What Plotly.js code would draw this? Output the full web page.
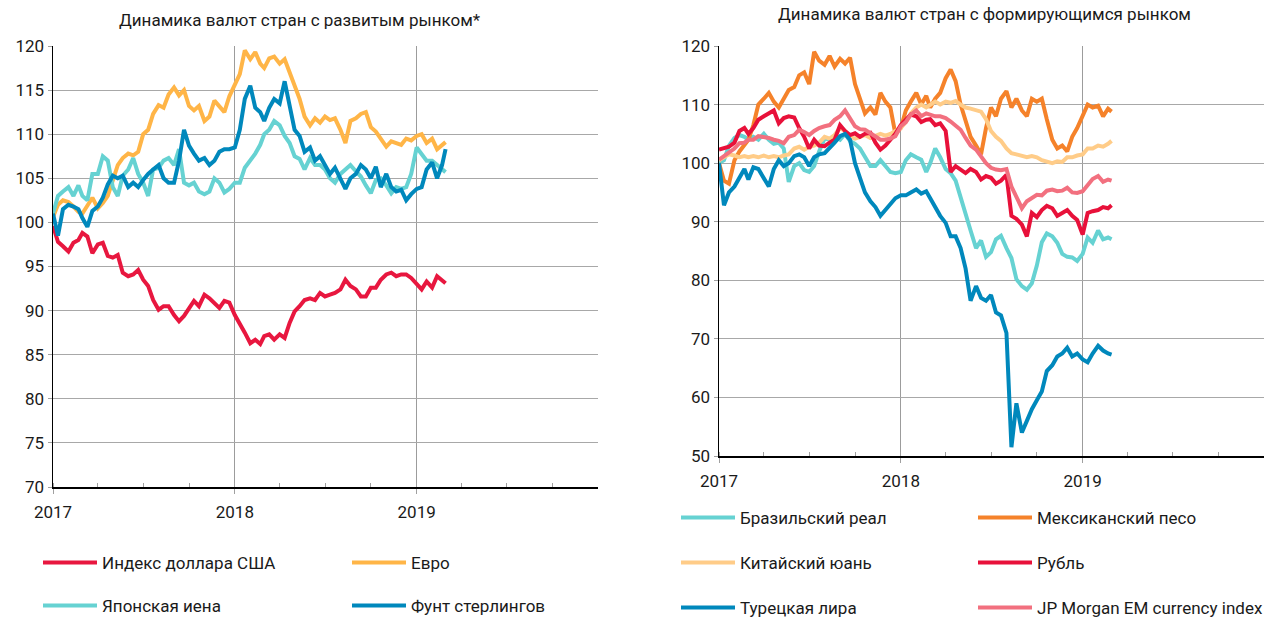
<!DOCTYPE html>
<html>
<head>
<meta charset="utf-8">
<script src="https://cdn.plot.ly/plotly-3.0.1.min.js"></script>
<style>html,body{margin:0;padding:0;background:#fff;}#chart{width:1269px;height:622px;}</style>
</head>
<body>
<div id="chart"></div>
<script>
// ---- Dates (1st, 11th, 21st of each month) ----
const dates = [
 '2017-01-01','2017-01-11','2017-01-21','2017-02-01','2017-02-11','2017-02-21','2017-03-01','2017-03-11','2017-03-21',
 '2017-04-01','2017-04-11','2017-04-21','2017-05-01','2017-05-11','2017-05-21','2017-06-01','2017-06-11','2017-06-21',
 '2017-07-01','2017-07-11','2017-07-21','2017-08-01','2017-08-11','2017-08-21','2017-09-01','2017-09-11','2017-09-21',
 '2017-10-01','2017-10-11','2017-10-21','2017-11-01','2017-11-11','2017-11-21','2017-12-01','2017-12-11','2017-12-21',
 '2018-01-01','2018-01-11','2018-01-21','2018-02-01','2018-02-11','2018-02-21','2018-03-01','2018-03-11','2018-03-21',
 '2018-04-01','2018-04-11','2018-04-21','2018-05-01','2018-05-11','2018-05-21','2018-06-01','2018-06-11','2018-06-21',
 '2018-07-01','2018-07-11','2018-07-21','2018-08-01','2018-08-11','2018-08-21','2018-09-01','2018-09-11','2018-09-21',
 '2018-10-01','2018-10-11','2018-10-21','2018-11-01','2018-11-11','2018-11-21','2018-12-01','2018-12-11','2018-12-21',
 '2019-01-01','2019-01-11','2019-01-21','2019-02-01','2019-02-11','2019-02-21','2019-02-28'
];

// ---- Developed-market currencies (left) ----
const usdIndex = [
 99.6,97.8,97.3,96.7,97.7,98.0,98.8,98.4,96.5,97.5,97.7,96.2,96.0,96.3,94.3,93.9,94.1,94.6,
 93.5,92.8,91.2,90.1,90.5,90.5,89.5,88.8,89.4,90.3,91.1,90.5,91.8,91.4,90.9,90.3,91.1,90.9,
 89.5,88.6,87.5,86.3,86.7,86.2,87.1,87.3,86.7,87.3,86.9,88.6,89.9,90.5,91.2,91.4,91.2,92.0,
 91.6,91.8,92.0,92.4,93.5,92.8,92.4,91.6,91.6,92.6,92.6,93.5,94.1,94.3,93.9,94.1,94.1,93.7,
 93.1,92.4,93.3,92.6,93.9,93.5,93.1
];
const euro = [
 100.6,102.0,102.5,102.3,101.8,101.2,101.0,102.0,102.8,101.6,102.2,103.0,104.6,106.5,107.3,107.8,107.6,108.0,
 110.0,110.5,112.3,113.3,113.0,114.5,115.3,114.4,115.0,113.2,112.7,113.2,111.5,112.0,113.8,113.2,112.5,114.3,
 115.5,116.8,119.5,118.5,119.3,118.0,117.5,118.6,118.8,118.0,118.5,117.0,115.3,114.0,112.0,111.0,111.8,111.3,
 112.0,111.6,111.8,110.5,109.0,111.5,111.8,112.3,112.5,110.8,110.3,109.5,108.6,109.2,109.0,108.8,109.5,109.3,
 109.8,110.0,109.0,109.5,108.3,108.8,109.1
];
const yen = [
 101.0,103.0,103.5,104.0,103.0,104.2,103.0,102.5,105.5,105.5,107.5,107.0,104.0,103.0,105.3,106.0,107.3,105.5,
 104.5,103.0,106.0,106.2,107.0,107.3,106.5,108.3,104.5,104.2,104.5,103.5,103.2,103.5,105.0,104.5,103.4,103.8,
 104.5,104.5,106.2,107.0,107.8,108.8,110.0,110.5,111.5,111.0,109.8,109.0,107.5,107.2,106.0,107.3,106.5,106.5,
 106.0,105.0,104.5,105.5,106.0,106.5,105.8,105.2,104.2,103.3,104.8,105.0,104.2,103.3,104.0,103.8,104.0,105.5,
 108.5,107.8,107.0,107.0,106.5,106.0,105.7
];
const pound = [
 101.0,98.5,101.5,102.0,101.8,101.5,100.5,99.5,101.3,101.8,102.8,104.3,105.3,105.0,105.3,104.0,104.5,104.0,
 104.8,105.5,106.0,106.5,105.0,104.5,104.5,107.0,110.5,108.7,107.8,107.0,107.3,106.5,107.0,108.0,108.3,108.3,
 108.5,110.5,114.0,115.5,113.0,112.5,111.5,113.0,114.0,113.5,116.0,113.0,110.5,109.8,108.0,108.5,107.0,107.5,
 106.5,105.5,106.2,104.8,103.8,105.0,105.5,106.5,106.0,105.0,106.3,104.0,105.5,104.0,103.5,103.7,102.5,103.2,
 103.8,104.0,106.0,106.8,105.0,106.5,108.3
];

// ---- Emerging-market currencies (right) ----
const brl = [
 100.0,100.5,103.0,104.3,104.8,104.5,104.0,104.5,104.0,105.0,104.0,103.3,103.5,102.5,96.8,99.5,100.0,98.8,
 98.5,99.5,102.0,104.2,104.0,104.5,104.0,105.0,103.8,103.3,102.5,101.0,99.5,99.5,100.5,99.5,98.5,98.3,
 98.5,100.5,101.5,101.0,100.6,98.5,100.0,102.5,101.0,99.0,98.3,97.0,94.0,91.5,88.5,85.5,86.8,84.0,
 84.8,87.0,87.6,85.5,83.8,80.2,79.0,78.4,79.5,82.5,86.5,88.0,87.5,86.4,84.5,84.0,83.9,83.3,
 84.5,87.3,86.4,88.5,87.0,87.3,87.0
];
const mxn = [
 100.0,97.0,96.5,100.5,102.0,103.0,104.0,106.5,110.0,111.0,112.0,110.5,109.5,111.0,112.5,113.0,115.0,115.5,
 113.5,119.0,117.5,116.8,118.3,116.5,117.8,117.0,118.0,113.5,111.0,108.5,109.5,108.3,112.0,110.5,109.5,105.0,
 106.0,109.0,110.5,112.0,110.0,111.5,109.5,111.0,112.0,114.5,116.0,114.0,110.0,107.5,104.5,103.0,101.5,106.0,
 109.5,108.0,111.0,112.3,109.5,111.0,109.0,108.0,111.0,110.5,111.0,107.5,104.0,102.5,103.0,102.0,104.5,106.0,
 108.0,110.0,109.5,109.8,108.0,109.3,108.8
];
const cny = [
 100.5,101.0,101.5,101.3,101.0,101.2,101.0,101.2,101.0,101.3,101.0,101.2,101.0,101.3,101.5,102.5,102.8,102.3,
 102.8,103.0,103.5,104.5,104.2,104.8,106.0,105.5,104.5,104.2,104.5,104.8,104.3,104.6,105.0,104.7,105.0,105.5,
 106.0,107.0,108.5,109.5,110.0,109.5,110.0,110.5,110.0,110.5,110.3,110.6,110.0,109.5,109.3,109.0,108.8,107.5,
 105.5,104.5,103.8,102.5,101.7,101.5,101.2,101.0,101.2,101.0,100.5,100.2,100.0,100.3,100.2,101.0,101.0,101.3,
 101.5,102.5,102.5,103.0,102.8,103.3,103.8
];
const rub = [
 102.3,102.5,102.8,103.5,105.5,106.0,105.0,106.0,107.4,108.0,108.6,109.0,106.8,107.7,108.0,107.8,106.0,104.5,
 102.5,104.0,103.0,102.9,103.5,104.0,106.5,105.5,104.8,105.1,104.5,105.0,105.2,103.5,102.3,103.0,104.0,105.0,
 106.5,107.5,108.3,108.0,107.0,107.4,107.5,106.5,106.8,105.5,98.5,99.5,98.8,98.3,99.0,98.5,97.2,97.8,
 97.5,96.5,97.0,98.0,91.0,90.5,89.5,87.5,91.5,90.8,92.0,92.7,92.3,91.0,91.5,92.0,91.0,90.3,
 87.8,91.5,91.8,92.0,92.5,92.3,92.8
];
const tryLira = [
 100.0,92.8,95.0,96.0,97.5,99.0,97.2,99.3,99.0,97.5,96.0,99.0,100.5,99.5,100.0,101.2,101.5,101.0,
 99.5,101.0,101.5,101.7,102.5,103.5,104.6,105.0,104.0,100.0,97.5,95.0,93.5,92.5,91.0,92.0,93.0,94.0,
 94.5,94.5,95.0,95.5,94.8,95.2,94.0,92.5,91.0,89.8,87.5,87.5,85.5,82.0,76.5,79.0,77.0,76.5,
 77.5,74.5,74.0,71.0,51.5,59.0,54.0,56.0,58.0,59.5,61.0,64.5,65.5,67.0,67.5,68.5,67.0,67.5,
 66.5,66.0,67.5,68.8,68.0,67.5,67.3
];
const jpmEm = [
 100.6,101.2,101.7,102.5,103.4,103.5,104.0,104.0,104.6,104.5,104.3,104.0,103.8,103.4,104.5,104.8,105.7,105.3,
 104.8,105.5,106.0,106.3,106.5,107.4,108.0,109.0,107.5,106.3,105.8,105.7,105.1,104.5,104.0,104.0,104.2,104.6,
 106.3,107.0,108.3,109.0,108.0,108.5,108.3,108.0,108.0,107.7,107.1,106.5,105.7,104.3,103.0,102.3,101.2,100.0,
 99.2,98.9,98.8,99.0,96.0,94.4,92.3,93.5,94.0,94.6,94.5,95.3,95.5,95.2,95.3,95.8,95.0,94.9,
 95.2,96.2,97.3,97.8,96.8,97.2,97.0
];

const titleLeft = 'Динамика валют стран с развитым рынком*';
const titleRight = 'Динамика валют стран с формирующимся рынком';
const yearTicks = ['2017-01-01','2018-01-01','2019-01-01'];
const yearLabels = ['2017','2018','2019'];

const W = 1269, H = 622;
const LW = 4;
function tr(name, y, color, xa, ya, legend) {
  return {type:'scatter', mode:'lines', x:dates, y:y, name:name,
    line:{color:color, width:LW}, xaxis:xa, yaxis:ya, legend:legend, hoverinfo:'skip'};
}
const data = [
  tr('Индекс доллара США', usdIndex, '#E8173F', 'x', 'y', 'legend'),
  tr('Евро', euro, '#FFB547', 'x', 'y', 'legend'),
  tr('Японская иена', yen, '#66D2D2', 'x', 'y', 'legend2'),
  tr('Фунт стерлингов', pound, '#0088BC', 'x', 'y', 'legend2'),
  tr('Бразильский реал', brl, '#66D2D2', 'x2', 'y2', 'legend3'),
  tr('Мексиканский песо', mxn, '#F5822A', 'x2', 'y2', 'legend3'),
  tr('Китайский юань', cny, '#FFCC88', 'x2', 'y2', 'legend4'),
  tr('Рубль', rub, '#E8113A', 'x2', 'y2', 'legend4'),
  tr('Турецкая лира', tryLira, '#0088BC', 'x2', 'y2', 'legend5'),
  tr('JP Morgan EM currency index', jpmEm, '#F2707F', 'x2', 'y2', 'legend5')
];

function xax(d0, d1, anchor) {
  return {domain:[d0/W, d1/W], anchor:anchor, type:'date',
    range:['2017-01-01','2019-12-31'], tickmode:'array', tickvals:yearTicks, ticktext:yearLabels,
    showgrid:true, gridcolor:'#9c9c9c', gridwidth:1,
    showline:true, linecolor:'#000', linewidth:1.5, mirror:false,
    ticks:'outside', ticklen:5, tickcolor:'#a0a0a0', tickwidth:1, ticklabelstandoff:4,
    minor:{dtick:'M3', tick0:'2017-01-01', ticks:'inside', ticklen:4, tickcolor:'#a0a0a0', tickwidth:1, showgrid:false},
    zeroline:false, tickfont:{size:17, color:'#1a1a1a'}, fixedrange:true, automargin:false};
}
function yax(top, bottom, r, dt, anchor) {
  return {domain:[(H-bottom)/H, (H-top)/H], anchor:anchor, range:r, dtick:dt, tick0:0,
    showgrid:true, gridcolor:'#a8a8a8', gridwidth:1,
    showline:true, linecolor:'#000', linewidth:1.5,
    ticks:'outside', ticklen:4, tickcolor:'#a0a0a0', tickwidth:1,
    zeroline:false, tickfont:{size:17, color:'#1a1a1a'}, fixedrange:true, automargin:false};
}
function leg(x, yc, ew) {
  return {orientation:'h', x:x/W, y:(H-yc)/H, xanchor:'left', yanchor:'middle',
    entrywidth:ew, entrywidthmode:'pixels', itemwidth:54, bgcolor:'rgba(0,0,0,0)',
    borderwidth:0, font:{size:17, color:'#1a1a1a'}, traceorder:'normal', itemclick:false, itemdoubleclick:false};
}

const layout = {
  width:W, height:H, margin:{l:0, r:0, t:0, b:0, pad:0, autoexpand:false},
  paper_bgcolor:'#fff', plot_bgcolor:'#fff',
  font:{family:'Roboto, "Noto Sans", sans-serif', size:16, color:'#1a1a1a'},
  showlegend:true,
  xaxis: xax(53, 598, 'y'),
  yaxis: yax(46, 487, [70,120], 5, 'x'),
  xaxis2: xax(719, 1264, 'y2'),
  yaxis2: yax(46, 456, [50,120], 10, 'x2'),
  legend: leg(38, 563, 240),
  legend2: leg(38, 606, 240),
  legend3: leg(676, 518, 228),
  legend4: leg(676, 563, 228),
  legend5: leg(676, 608, 228),
  annotations:[
    {text:titleLeft, xref:'paper', yref:'paper', x:300/W, y:(H-20)/H, xanchor:'center', yanchor:'middle', showarrow:false, font:{size:17, color:'#1a1a1a'}},
    {text:titleRight, xref:'paper', yref:'paper', x:984/W, y:(H-14)/H, xanchor:'center', yanchor:'middle', showarrow:false, font:{size:17, color:'#1a1a1a'}}
  ]
};

Plotly.newPlot('chart', data, layout, {displayModeBar:false, staticPlot:true});
</script>
</body>
</html>
